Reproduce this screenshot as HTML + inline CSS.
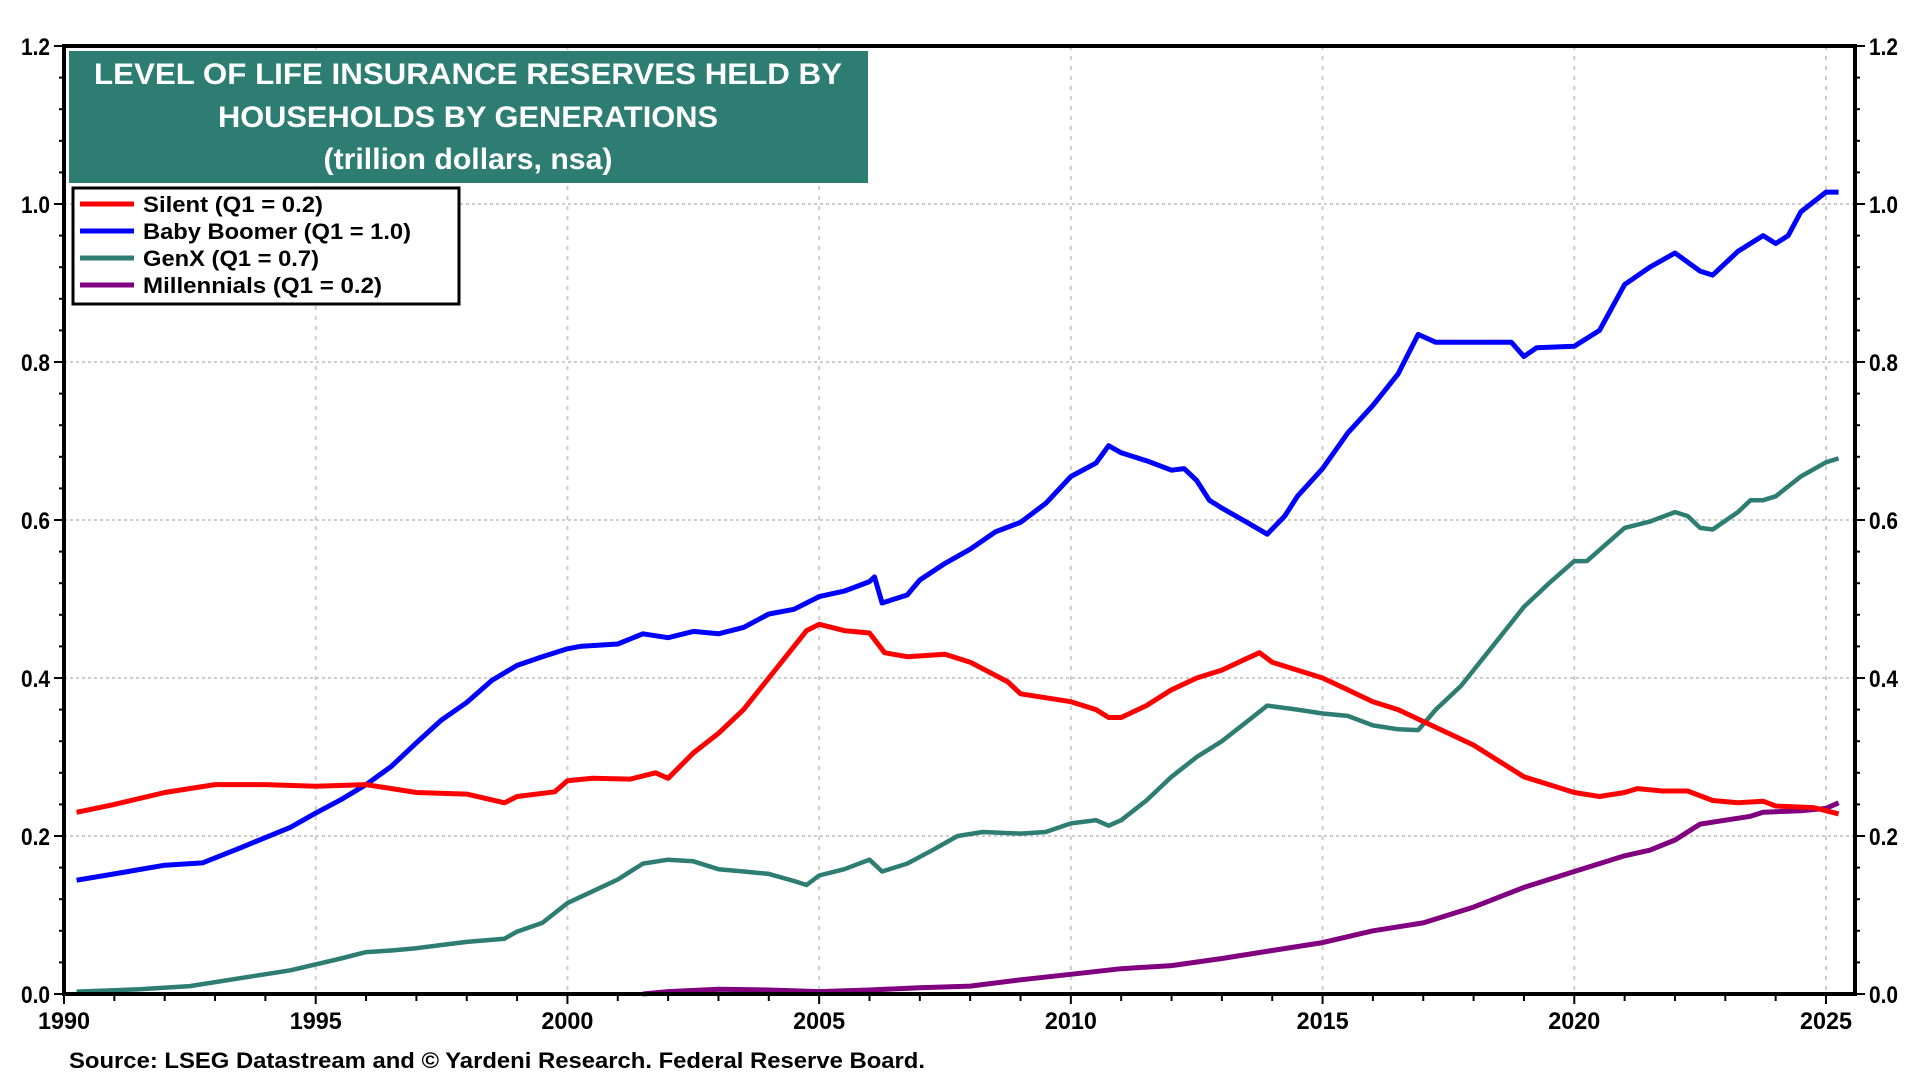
<!DOCTYPE html>
<html><head><meta charset="utf-8"><style>
body{margin:0;background:#fff;width:1920px;height:1080px;overflow:hidden;font-family:"Liberation Sans",sans-serif}
svg{position:absolute;left:0;top:0}
</style></head><body>
<svg id="c" width="1920" height="1080"></svg>
<script>
const silentX=[1990.25,1991,1992,1993,1994,1995,1996,1997,1998,1998.75,1999,1999.75,2000,2000.5,2001.25,2001.75,2002,2002.5,2003,2003.5,2004,2004.5,2004.75,2005,2005.5,2006,2006.3,2006.75,2007.5,2008,2008.75,2009,2010,2010.5,2010.75,2011,2011.5,2012,2012.5,2013,2013.5,2013.75,2014,2014.5,2015,2015.5,2016,2016.5,2017,2017.5,2018,2018.5,2019,2019.5,2020,2020.5,2021,2021.25,2021.75,2022.25,2022.75,2023.25,2023.75,2024,2024.75,2025.25];
const silentY=[.23,.24,.255,.265,.265,.263,.265,.255,.253,.242,.25,.256,.27,.273,.272,.28,.273,.305,.33,.36,.40,.44,.46,.468,.46,.457,.432,.427,.43,.42,.395,.38,.37,.36,.35,.35,.365,.385,.40,.41,.425,.432,.42,.41,.40,.385,.37,.36,.345,.33,.315,.295,.275,.265,.255,.25,.255,.26,.257,.257,.245,.242,.244,.238,.236,.228];
const boomX=[1990.25,1991,1992,1992.75,1993.5,1994,1994.5,1995,1995.5,1996,1996.5,1997,1997.5,1998,1998.5,1999,1999.5,2000,2000.25,2001,2001.5,2002,2002.5,2003,2003.5,2004,2004.5,2005,2005.5,2006,2006.1,2006.25,2006.75,2007,2007.5,2008,2008.5,2009,2009.5,2010,2010.5,2010.75,2011,2011.5,2012,2012.25,2012.5,2012.75,2013,2013.5,2013.9,2014.25,2014.5,2015,2015.5,2016,2016.5,2016.9,2017.25,2018,2018.75,2019,2019.25,2020,2020.5,2021,2021.5,2022,2022.5,2022.75,2023.25,2023.75,2024,2024.25,2024.5,2025,2025.25];
const boomY=[.144,.152,.163,.166,.185,.198,.211,.229,.246,.265,.288,.318,.347,.369,.397,.416,.427,.437,.440,.443,.456,.451,.459,.456,.464,.481,.487,.503,.510,.522,.528,.495,.505,.524,.545,.563,.585,.597,.621,.655,.672,.694,.685,.675,.663,.665,.65,.625,.615,.597,.582,.605,.63,.665,.71,.745,.785,.835,.825,.825,.825,.807,.818,.82,.84,.898,.92,.938,.915,.91,.94,.96,.95,.96,.99,1.015,1.015];
const genxX=[1990.25,1991.5,1992.5,1993.5,1994.5,1995.5,1996,1996.5,1997,1997.5,1998,1998.75,1999,1999.5,2000,2000.5,2001,2001.5,2002,2002.5,2003,2003.5,2004,2004.5,2004.75,2005,2005.5,2006,2006.25,2006.75,2007.25,2007.75,2008.25,2009,2009.5,2010,2010.5,2010.75,2011,2011.5,2012,2012.5,2013,2013.5,2013.9,2014.5,2015,2015.5,2016,2016.5,2016.9,2017.25,2017.75,2018.25,2018.75,2019,2019.5,2020,2020.25,2021,2021.5,2022,2022.25,2022.5,2022.75,2023.25,2023.5,2023.75,2024,2024.5,2025,2025.25];
const genxY=[.003,.006,.01,.02,.03,.045,.053,.055,.058,.062,.066,.07,.079,.09,.115,.13,.145,.165,.17,.168,.158,.155,.152,.143,.138,.15,.158,.17,.155,.165,.182,.2,.205,.203,.205,.216,.22,.213,.22,.245,.275,.30,.32,.345,.365,.36,.355,.352,.34,.335,.334,.36,.39,.43,.47,.49,.52,.548,.548,.59,.598,.61,.605,.59,.588,.61,.625,.625,.63,.655,.673,.678];
const milX=[2001.5,2002,2003,2004,2005,2006,2007,2008,2009,2010,2011,2012,2013,2014,2015,2016,2017,2018,2019,2020,2020.5,2021,2021.5,2022,2022.5,2023,2023.5,2023.75,2024.5,2025,2025.25];
const milY=[0,.003,.006,.005,.003,.005,.008,.01,.018,.025,.032,.036,.045,.055,.065,.08,.09,.11,.135,.155,.165,.175,.182,.195,.215,.22,.225,.23,.232,.235,.242];
const xTicks=[1990,1995,2000,2005,2010,2015,2020,2025];
const yTicks=[0,0.2,0.4,0.6,0.8,1.0,1.2];

const L=64,R=1855,T=46,B=994;
const sx=v=>L+(v-1990)/35*(1826-L);
const sy=v=>B-v/1.2*(B-T);
const svg=document.getElementById('c');
const NS='http://www.w3.org/2000/svg';
function mk(t,a,p){const e=document.createElementNS(NS,t);for(const k in a)e.setAttribute(k,a[k]);(p||svg).appendChild(e);return e;}
xTicks.forEach(v=>{if(v===1990)return;const g=mk('line',{x1:sx(v),x2:sx(v),y1:T,y2:B,stroke:'#ccc','stroke-width':2,'stroke-dasharray':'4 6'});});
yTicks.forEach(v=>{if(v===0||v===1.2)return;const g=mk('line',{x1:L,x2:R,y1:sy(v),y2:sy(v),stroke:'#ccc','stroke-width':2,'stroke-dasharray':'3 3'});});
for(let y=1990;y<=2025;y++){const t=mk('line',{x1:sx(y),x2:sx(y),y1:B,y2:B+(y%5===0?10:7),stroke:'#000','stroke-width':2});}
for(let i=0;i<=30;i++){const v=i*0.04,len=(i%5===0)?10:5;
const a=mk('line',{x1:L-len,x2:L,y1:sy(v),y2:sy(v),stroke:'#000','stroke-width':2});
const b=mk('line',{x1:R,x2:R+len,y1:sy(v),y2:sy(v),stroke:'#000','stroke-width':2});}
function series(xs,ys,col,w,name){const d=xs.map((x,i)=>(i?'L':'M')+sx(x).toFixed(1)+' '+sy(ys[i]).toFixed(1)).join(' ');const p=mk('path',{d:d,fill:'none',stroke:col,'stroke-width':w,'stroke-linejoin':'round'});}
series(genxX,genxY,'#2e7d72',4.5,'genx-line');
series(milX,milY,'#800080',5,'millennials-line');
series(boomX,boomY,'#0000ff',5,'baby-boomer-line');
series(silentX,silentY,'#ff0000',5,'silent-line');
const f=mk('rect',{x:L,y:T,width:R-L,height:B-T,fill:'none',stroke:'#000','stroke-width':4});
yTicks.forEach(v=>{const s=v.toFixed(1);
const a=mk('text',{x:L-14,y:sy(v)+9,'text-anchor':'end','font-size':24,'font-weight':'bold',textLength:29,lengthAdjust:'spacingAndGlyphs'});a.textContent=s;
const b=mk('text',{x:R+14,y:sy(v)+9,'font-size':24,'font-weight':'bold',textLength:29,lengthAdjust:'spacingAndGlyphs'});b.textContent=s;});
xTicks.forEach(v=>{const a=mk('text',{x:sx(v),y:1029,'text-anchor':'middle','font-size':24,'font-weight':'bold',textLength:52,lengthAdjust:'spacingAndGlyphs'});a.textContent=v;});
const tb=mk('rect',{x:69,y:51,width:799,height:132,fill:'#2e7d72'});
[['LEVEL OF LIFE INSURANCE RESERVES HELD BY',84,748],['HOUSEHOLDS BY GENERATIONS',127,500],['(trillion dollars, nsa)',169,289]].forEach(([s,y,w])=>{const t=mk('text',{x:468,y:y,'text-anchor':'middle','font-size':30,'font-weight':'bold',fill:'#fff',textLength:w,lengthAdjust:'spacingAndGlyphs'});t.textContent=s;});
const lb=mk('rect',{x:73,y:188,width:386,height:116,fill:'#fff',stroke:'#000','stroke-width':3});
[['Silent (Q1 = 0.2)','#ff0000',204,180],['Baby Boomer (Q1 = 1.0)','#0000ff',231,268],['GenX (Q1 = 0.7)','#2e7d72',258,176],['Millennials (Q1 = 0.2)','#800080',285,239]].forEach(([s,c,y,w])=>{
const l=mk('line',{x1:80,x2:134,y1:y,y2:y,stroke:c,'stroke-width':5});
const t=mk('text',{x:143,y:y+8,'font-size':22,'font-weight':'bold',textLength:w,lengthAdjust:'spacingAndGlyphs'});t.textContent=s;});
const src=mk('text',{x:69,y:1068,'font-size':22,'font-weight':'bold',textLength:856,lengthAdjust:'spacingAndGlyphs'});src.textContent='Source: LSEG Datastream and © Yardeni Research. Federal Reserve Board.';
</script>
</body></html>
